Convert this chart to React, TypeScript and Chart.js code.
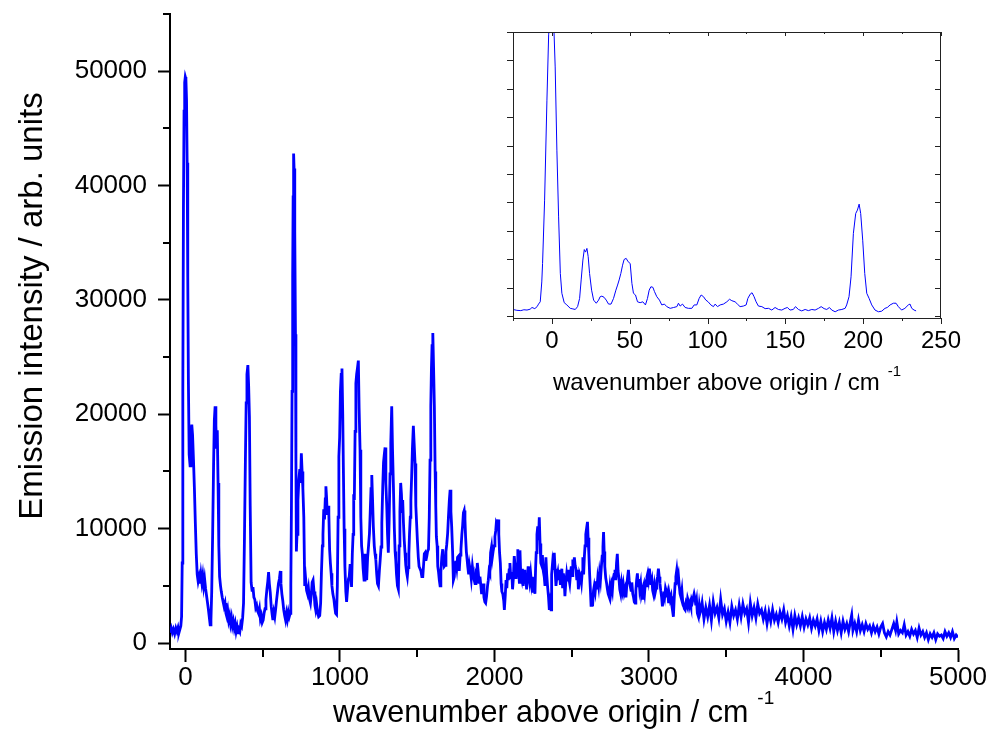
import React, { useEffect, useRef } from 'react';
import { Chart, registerables } from 'chart.js';

Chart.register(...registerables);

const FONT = '"Liberation Sans", Arial, Helvetica, sans-serif';
const BLUE = '#0000ff';

// ---- Main spectrum: [wavenumber above origin (cm-1), emission intensity (arb. units)]
const mainSpectrum: [number, number][] = [
  [-100, 900], [-92, 1300], [-85, 900], [-78, 1200], [-70, 800], [-62, 1300], [-55, 1000], [-48, 1350],
  [-42, 900], [-36, 1200], [-30, 1500], [-25, 2300], [-21, 7000], [-17, 22000], [-13, 38000], [-9, 46500],
  [-5, 49000], [-1, 49500], [3, 49300], [7, 47500], [11, 42000], [15, 32000], [19, 23000], [24, 16500], [30, 15500],
  [35, 17500], [41, 19100], [46, 18200], [52, 16000], [58, 13500], [64, 10500], [70, 7800], [76, 6000],
  [82, 5400], [88, 5800], [94, 5200], [100, 6000], [106, 5300], [112, 5900], [118, 5000], [124, 5600],
  [130, 4800], [136, 4200], [142, 3600], [148, 3000], [154, 2300], [160, 1600], [165, 2000], [170, 4500],
  [176, 9500], [182, 15500], [187, 19500], [192, 20700], [197, 19000], [202, 17000], [206, 18600], [211, 14000],
  [216, 8500], [221, 5800], [227, 5000], [232, 4500], [238, 4000], [244, 3600], [250, 3200], [256, 3500],
  [262, 2600], [268, 2300], [274, 2800], [280, 2000], [286, 2400], [292, 1700], [298, 2200], [304, 1500],
  [310, 1900], [316, 1300], [322, 1700], [328, 1000], [334, 1400], [340, 800], [346, 1200], [352, 1000],
  [358, 1700], [364, 1500], [370, 2200], [376, 3500], [382, 9300], [388, 16000], [393, 21000], [398, 23500],
  [404, 24300], [409, 22500], [414, 19800], [419, 12000], [425, 5300], [431, 4600], [437, 4900], [443, 4000],
  [449, 3800], [455, 3100], [461, 3300], [467, 2800], [473, 2600], [479, 3000], [485, 2100], [491, 2400],
  [497, 1800], [503, 2000], [509, 2600], [515, 3000], [521, 3800], [527, 4700], [533, 5400], [538, 6200],
  [543, 5200], [549, 4400], [555, 3200], [561, 2500], [566, 2000], [572, 2700], [578, 2300], [584, 3000],
  [590, 3800], [596, 4500], [602, 5200], [608, 5600], [614, 6300], [618, 5200], [624, 4300], [630, 3700],
  [636, 2900], [642, 2400], [648, 2000], [654, 2600], [660, 2100], [666, 2700], [672, 2300], [678, 2600],
  [682, 5000], [686, 12000], [690, 22000], [694, 32000], [697, 39000], [700, 42800], [703, 41500], [706, 40000],
  [709, 36000], [712, 27000], [715, 16000], [718, 8000], [722, 9500], [728, 12500], [734, 14300], [740, 15200],
  [745, 14000], [750, 16600], [755, 15000], [760, 13500], [766, 11000], [772, 5000], [778, 5600], [784, 4600],
  [790, 4300], [796, 4800], [802, 3900], [809, 3500], [815, 4300], [820, 5300], [826, 5500], [832, 4500],
  [838, 3300], [843, 2900], [849, 3400], [855, 2700], [862, 2300], [869, 2400], [875, 3500], [880, 6100],
  [886, 8500], [890, 9500], [895, 11700], [900, 10800], [905, 12600], [909, 13700], [913, 12800], [918, 11200],
  [923, 12000], [928, 11300], [933, 8200], [938, 7000], [943, 6100], [948, 5000], [954, 4300], [961, 3800],
  [966, 3200], [972, 2600], [978, 2500], [983, 5000], [988, 11000], [993, 16300], [998, 18000], [1003, 22000],
  [1008, 23500], [1013, 24000], [1018, 20000], [1022, 15400], [1027, 10000], [1032, 6700], [1038, 4500], [1043, 3600],
  [1049, 4700], [1055, 5600], [1060, 5800], [1066, 6900], [1071, 5800], [1075, 4900], [1080, 7800], [1085, 9500],
  [1089, 13000], [1093, 12500], [1098, 18500], [1103, 22700], [1108, 23500], [1113, 24000], [1119, 24700], [1124, 20500],
  [1130, 16900], [1135, 11000], [1140, 8500], [1145, 7800], [1150, 6500], [1156, 5500], [1162, 7800], [1168, 7200],
  [1173, 5500], [1179, 7500], [1185, 8500], [1191, 9600], [1196, 11500], [1201, 13500], [1206, 14700], [1211, 12500],
  [1216, 10200], [1222, 8500], [1227, 7800], [1232, 7300], [1238, 6000], [1243, 5200], [1249, 5000], [1255, 6300],
  [1260, 7200], [1266, 8400], [1271, 10500], [1277, 13700], [1282, 15800], [1287, 16500], [1292, 17100], [1297, 14000],
  [1303, 11900], [1308, 9500], [1313, 7900], [1318, 10500], [1324, 14800], [1329, 17500], [1335, 20700], [1340, 17000],
  [1346, 13700], [1352, 10000], [1357, 8000], [1361, 7300], [1366, 6000], [1372, 5000], [1378, 4700], [1383, 8500],
  [1388, 11500], [1393, 14000], [1398, 13000], [1402, 11500], [1406, 12500], [1411, 10500], [1416, 9000], [1421, 7900],
  [1426, 6800], [1431, 6200], [1436, 5800], [1441, 6600], [1446, 7800], [1450, 9500], [1455, 11000], [1459, 12500],
  [1464, 14600], [1469, 17000], [1475, 19000], [1480, 17500], [1486, 15700], [1491, 12000], [1496, 10500], [1501, 9000],
  [1507, 7500], [1512, 6700], [1518, 6700], [1524, 6300], [1530, 5800], [1536, 5800], [1541, 6800], [1546, 7800],
  [1551, 7900], [1556, 7200], [1562, 7600], [1567, 8000], [1573, 8200], [1578, 11000], [1583, 16000], [1588, 20700],
  [1592, 24000], [1596, 26000], [1601, 27100], [1606, 24000], [1611, 20700], [1616, 15000], [1620, 12000], [1624, 9300],
  [1629, 8500], [1633, 6700], [1638, 6200], [1643, 5500], [1648, 5000], [1653, 6200], [1659, 7500], [1665, 8200],
  [1670, 7300], [1675, 6700], [1680, 6800], [1686, 8000], [1691, 8600], [1697, 9600], [1702, 11000], [1708, 12500],
  [1713, 13400], [1718, 11500], [1723, 10200], [1729, 8000], [1734, 5500], [1740, 5800], [1745, 7000], [1750, 7200],
  [1756, 6600], [1761, 7500], [1767, 7600], [1772, 6300], [1778, 7700], [1783, 8200], [1789, 9500], [1794, 10300],
  [1799, 11400], [1804, 11600], [1809, 10800], [1813, 9300], [1818, 8000], [1823, 7300], [1827, 6700], [1833, 6000],
  [1838, 6800], [1844, 6300], [1850, 5600], [1857, 6700], [1863, 6000], [1869, 5500], [1874, 5200], [1880, 6000],
  [1885, 5800], [1889, 7000], [1895, 6200], [1900, 5300], [1906, 5800], [1912, 5000], [1916, 4400], [1921, 4400],
  [1927, 5200], [1932, 4000], [1938, 3600], [1943, 3500], [1949, 4100], [1955, 5000], [1960, 5500], [1965, 6300],
  [1970, 6100], [1975, 7900], [1981, 8400], [1986, 7500], [1991, 8000], [1997, 8500], [2003, 9300], [2008, 9800],
  [2012, 10500], [2018, 10300], [2023, 10800], [2028, 9500], [2033, 7900], [2038, 7000], [2043, 5200], [2048, 4500],
  [2054, 4300], [2060, 3700], [2064, 2900], [2070, 4200], [2075, 5500], [2080, 4800], [2085, 6100], [2090, 5500],
  [2095, 6400], [2100, 7000], [2106, 5600], [2112, 6200], [2117, 4700], [2122, 5600], [2128, 7600], [2134, 6700],
  [2140, 5600], [2146, 6900], [2151, 8200], [2156, 6500], [2161, 5300], [2165, 8100], [2170, 6000], [2176, 5600],
  [2181, 6500], [2186, 5000], [2192, 6400], [2197, 5200], [2203, 5800], [2208, 4700], [2213, 5600], [2218, 6700],
  [2223, 6000], [2228, 5400], [2234, 6100], [2240, 5200], [2246, 5800], [2251, 4400], [2256, 5600], [2262, 4300],
  [2266, 6500], [2270, 7900], [2275, 9500], [2280, 10200], [2285, 9000], [2290, 11000], [2295, 8700], [2300, 7000],
  [2305, 6800], [2310, 7700], [2316, 6300], [2322, 5800], [2327, 5000], [2333, 7500], [2338, 6000], [2344, 4900],
  [2350, 4000], [2355, 2900], [2360, 3500], [2366, 2900], [2370, 6000], [2376, 7000], [2382, 6400], [2387, 7900],
  [2392, 6500], [2398, 5000], [2404, 5800], [2410, 6200], [2415, 5500], [2420, 6400], [2426, 5200], [2430, 5500],
  [2436, 6500], [2441, 4800], [2446, 6100], [2451, 5500], [2456, 4100], [2461, 5200], [2467, 6000], [2472, 5400],
  [2477, 6400], [2482, 5600], [2487, 5200], [2492, 6000], [2497, 6700], [2502, 5900], [2507, 7300], [2512, 6600],
  [2517, 7500], [2522, 6800], [2528, 6400], [2533, 5500], [2538, 6400], [2543, 4700], [2548, 5400], [2553, 6000],
  [2558, 5800], [2563, 5300], [2568, 6200], [2572, 7500], [2577, 6000], [2582, 7600], [2586, 8500], [2591, 9500],
  [2597, 10100], [2602, 10600], [2606, 9200], [2611, 7800], [2616, 6000], [2620, 4900], [2625, 3300], [2630, 3600],
  [2636, 3500], [2641, 4600], [2646, 5000], [2652, 4500], [2658, 5400], [2663, 4700], [2668, 5600], [2674, 5000],
  [2680, 6100], [2686, 5500], [2692, 6700], [2697, 7600], [2702, 8400], [2706, 9700], [2710, 8000], [2714, 6700],
  [2720, 5700], [2726, 5200], [2731, 4700], [2736, 4300], [2741, 4100], [2747, 4900], [2752, 4300], [2758, 5000],
  [2763, 4600], [2768, 5600], [2774, 6000], [2780, 6400], [2785, 5500], [2790, 7000], [2795, 7800], [2800, 6300],
  [2806, 5600], [2811, 4700], [2817, 4300], [2823, 5200], [2829, 4600], [2834, 5100], [2840, 4400], [2845, 4700],
  [2851, 4000], [2856, 5000], [2862, 5800], [2867, 6400], [2872, 5500], [2878, 5000], [2884, 4600], [2889, 5300],
  [2895, 4300], [2900, 4000], [2905, 3600], [2910, 3500], [2915, 4600], [2920, 5500], [2925, 6100], [2930, 5000],
  [2935, 5600], [2940, 4700], [2946, 5200], [2951, 4200], [2956, 4500], [2960, 3800], [2966, 4700], [2971, 4300],
  [2976, 5200], [2981, 5000], [2987, 5800], [2992, 6100], [2997, 5600], [3003, 6500], [3008, 5700], [3013, 5100],
  [3019, 5500], [3024, 4600], [3029, 4300], [3035, 5000], [3040, 4400], [3046, 4800], [3051, 5500], [3056, 5800],
  [3061, 6500], [3066, 5800], [3071, 5200], [3076, 4600], [3082, 4000], [3087, 3200], [3092, 3800], [3097, 4500],
  [3102, 4100], [3107, 4800], [3111, 4600], [3116, 4000], [3122, 4400], [3127, 3500], [3132, 4200], [3137, 3800],
  [3143, 4100], [3148, 3300], [3153, 2800], [3158, 2300], [3163, 3800], [3169, 5200], [3174, 5800], [3180, 6400],
  [3185, 5700], [3190, 6000], [3196, 5000], [3201, 4300], [3207, 4000], [3213, 4600], [3218, 3700], [3223, 3400],
  [3229, 3000], [3234, 2900], [3240, 3500], [3245, 3300], [3250, 3900], [3256, 3600], [3261, 3200], [3266, 3500],
  [3271, 3200], [3276, 3800], [3281, 3600], [3287, 4000], [3292, 4300], [3298, 3900], [3303, 3300], [3308, 3700],
  [3313, 2600], [3320, 2300], [3326, 3300], [3332, 2700], [3338, 3000], [3344, 3500], [3356, 2100], [3368, 3100],
  [3380, 2300], [3392, 3300], [3404, 2000], [3416, 3600], [3428, 2600], [3440, 3100], [3452, 2200], [3464, 3800],
  [3476, 2500], [3488, 3000], [3500, 1900], [3512, 2700], [3524, 1800], [3536, 3200], [3548, 2400], [3560, 2900],
  [3572, 2100], [3584, 3300], [3596, 2300], [3608, 3400], [3620, 2600], [3632, 3000], [3644, 1800], [3656, 3500],
  [3668, 2400], [3680, 3100], [3692, 2200], [3704, 3400], [3716, 2600], [3728, 2900], [3740, 2100], [3752, 2800],
  [3764, 1700], [3776, 2700], [3788, 1900], [3800, 2900], [3812, 2000], [3824, 2500], [3836, 1800], [3848, 2700],
  [3860, 2100], [3872, 2900], [3884, 1800], [3896, 2400], [3908, 1500], [3920, 2300], [3932, 1200], [3944, 2400],
  [3956, 1600], [3968, 2200], [3980, 1500], [3992, 2300], [4004, 1400], [4016, 2100], [4028, 1600], [4040, 2200],
  [4052, 1300], [4064, 2000], [4076, 1500], [4088, 2100], [4100, 1100], [4112, 1900], [4124, 1000], [4136, 1800],
  [4148, 1200], [4160, 2000], [4172, 1300], [4184, 2200], [4196, 1000], [4208, 1900], [4220, 1100], [4232, 1800],
  [4244, 900], [4256, 1900], [4268, 1200], [4280, 1700], [4292, 1000], [4304, 1900], [4312, 2450], [4320, 1100],
  [4332, 1700], [4344, 1000], [4356, 2000], [4368, 1100], [4380, 1600], [4392, 1000], [4404, 1700], [4416, 1200],
  [4428, 1500], [4440, 900], [4452, 1500], [4464, 1000], [4476, 1400], [4488, 800], [4500, 1400], [4512, 1700],
  [4524, 900], [4536, 550], [4548, 1000], [4560, 700], [4572, 1200], [4584, 1700], [4596, 1100], [4604, 1850],
  [4616, 800], [4628, 1100], [4640, 900], [4652, 1600], [4664, 700], [4676, 1000], [4688, 600], [4700, 1200],
  [4712, 800], [4724, 1100], [4736, 500], [4748, 1300], [4760, 700], [4772, 1000], [4784, 500], [4796, 900],
  [4808, 300], [4820, 800], [4832, 500], [4844, 900], [4856, 300], [4868, 800], [4880, 600], [4892, 700],
  [4904, 400], [4916, 1000], [4928, 600], [4940, 900], [4952, 500], [4964, 1000], [4976, 400], [4988, 700],
  [5000, 500],
];

// ---- Inset spectrum (low-frequency region, arbitrary units)
const insetSpectrum: [number, number][] = [
  [-25, 0.23], [-22.5, 0.2], [-20, 0.19], [-18, 0.22], [-16, 0.21], [-14, 0.24], [-12.8, 0.3], [-11, 0.26],
  [-9.5, 0.33], [-8.6, 0.42], [-7.5, 0.5], [-6.5, 1.2], [-6, 1.85], [-4.7, 4.08], [-3.2, 7.6], [-2.1, 9.9],
  [-1, 10.7], [0, 11.0], [1, 10.6], [2.1, 8.77], [3.2, 5.84], [4.3, 3.49], [5.4, 1.5], [6.4, 0.8],
  [7.9, 0.47], [9.6, 0.39], [11.8, 0.27], [13.5, 0.25], [15, 0.23], [16.5, 0.33], [17.8, 0.62], [18.8, 1.27],
  [19.9, 1.97], [20.8, 2.34], [21.6, 2.25], [22.5, 2.38], [23.3, 2.09], [24.2, 1.5], [25.5, 0.91], [26.8, 0.56],
  [28.5, 0.45], [30, 0.56], [31, 0.68], [32.1, 0.7], [33.5, 0.66], [34.9, 0.56], [36.4, 0.42], [38, 0.42],
  [39.6, 0.62], [41.1, 0.91], [42.2, 1.09], [43.2, 1.27], [44.3, 1.5], [45.4, 1.79], [46.4, 1.99], [47.7, 2.03],
  [49, 1.91], [50.3, 1.85], [51.4, 1.15], [52.4, 0.8], [53.7, 0.74], [55, 0.5], [56.7, 0.47], [58.4, 0.5],
  [60.1, 0.39], [61.4, 0.62], [62.5, 0.91], [63.6, 1.03], [64.9, 1.01], [65.9, 0.86], [67.4, 0.68], [69.1, 0.56],
  [70.6, 0.39], [72.3, 0.42], [73.8, 0.33], [76, 0.27], [78.2, 0.3], [80.3, 0.33], [81.3, 0.45], [82.4, 0.35],
  [83.9, 0.42], [85.6, 0.3], [87.7, 0.27], [89.9, 0.27], [91.4, 0.39], [93.1, 0.39], [94.6, 0.62], [95.9, 0.74],
  [97.4, 0.68], [98.9, 0.56], [100.4, 0.5], [102.1, 0.39], [103.8, 0.33], [104.9, 0.42], [106.4, 0.33], [108.1, 0.39],
  [110.2, 0.42], [112.4, 0.5], [114.1, 0.59], [115.6, 0.54], [117.7, 0.5], [119.2, 0.42], [120.9, 0.33], [123, 0.35],
  [124.8, 0.39], [125.9, 0.62], [127.4, 0.77], [128.6, 0.82], [129.9, 0.68], [131.2, 0.5], [132.7, 0.35], [134.9, 0.33],
  [137, 0.26], [139.2, 0.27], [141.3, 0.21], [143.4, 0.3], [145.5, 0.23], [147.7, 0.21], [149.8, 0.27], [151.3, 0.3],
  [153, 0.21], [155.1, 0.23], [156.5, 0.33], [158.4, 0.23], [160.5, 0.18], [162.7, 0.23], [164.8, 0.19], [167, 0.23],
  [169.1, 0.21], [171.3, 0.27], [173, 0.33], [174.9, 0.26], [176.6, 0.23], [178.3, 0.3], [179.8, 0.21], [182, 0.15],
  [184.1, 0.21], [186.3, 0.23], [188.4, 0.27], [189.4, 0.39], [190.9, 0.68], [192.2, 1.38], [193.7, 2.91], [195.2, 3.61],
  [196.3, 3.73], [197.4, 3.94], [198.4, 3.61], [199.7, 2.67], [201, 1.5], [202.3, 0.8], [203.8, 0.62], [205.5, 0.39],
  [207.6, 0.21], [209.8, 0.15], [211.9, 0.17], [214, 0.27], [215.5, 0.3], [217.3, 0.39], [219.4, 0.45], [221.1, 0.45],
  [222.6, 0.33], [224.7, 0.21], [226.8, 0.27], [229, 0.39], [230.1, 0.42], [231.2, 0.27], [232.7, 0.21], [234, 0.18],
];

// ---- Ticks and tick labels
const mainXTicks = [0, 500, 1000, 1500, 2000, 2500, 3000, 3500, 4000, 4500, 5000];
const mainXTickLabels = [0, 1000, 2000, 3000, 4000, 5000];
const mainYTicks = [0, 5000, 10000, 15000, 20000, 25000, 30000, 35000, 40000, 45000, 50000, 55000];
const mainYTickLabels = [0, 10000, 20000, 30000, 40000, 50000];
const insetXTicks = [-25, 0, 25, 50, 75, 100, 125, 150, 175, 200, 225, 250];
const insetXTickLabels = [0, 50, 100, 150, 200, 250];
const insetYTicks = [0, 1, 2, 3, 4, 5, 6, 7, 8, 9, 10];

const xTitle = 'wavenumber above origin / cm';
const yTitle = 'Emission intensity / arb. units';
const superscript = '-1';

const mainDecor = {
  id: 'mainDecor',
  afterDraw(chart: any) {
    const { ctx, chartArea, scales } = chart;
    ctx.save();
    ctx.strokeStyle = '#000';
    ctx.lineWidth = 2;
    for (const t of scales.x.ticks) {
      if (!mainXTickLabels.includes(t.value)) {
        const px = Math.round(scales.x.getPixelForValue(t.value));
        ctx.beginPath();
        ctx.moveTo(px, chartArea.bottom);
        ctx.lineTo(px, chartArea.bottom + 8);
        ctx.stroke();
      }
    }
    for (const t of scales.y.ticks) {
      if (!mainYTickLabels.includes(t.value)) {
        const py = Math.round(scales.y.getPixelForValue(t.value));
        ctx.beginPath();
        ctx.moveTo(chartArea.left, py);
        ctx.lineTo(chartArea.left - 7, py);
        ctx.stroke();
      }
    }
    ctx.fillStyle = '#000';
    ctx.font = `30.5px ${FONT}`;
    ctx.textAlign = 'left';
    ctx.textBaseline = 'alphabetic';
    const x0 = 333;
    const yb = 722;
    ctx.fillText(xTitle, x0, yb);
    const w = ctx.measureText(xTitle).width;
    ctx.font = `19px ${FONT}`;
    ctx.fillText(superscript, x0 + w + 9, yb - 18);

    ctx.font = `33px ${FONT}`;
    ctx.translate(42, 306);
    ctx.rotate(-Math.PI / 2);
    ctx.textAlign = 'center';
    ctx.fillText(yTitle, 0, 0);
    ctx.restore();
  },
};

const insetDecor = {
  id: 'insetDecor',
  afterDraw(chart: any) {
    const { ctx, chartArea, scales } = chart;
    const { left, right, top, bottom } = chartArea;
    ctx.save();
    ctx.strokeStyle = '#222';
    ctx.lineWidth = 1;
    ctx.strokeRect(left + 0.5, top + 0.5, right - left - 1, bottom - top);
    for (const t of scales.x.ticks) {
      const px = Math.round(scales.x.getPixelForValue(t.value)) + 0.5;
      const major = insetXTickLabels.includes(t.value);
      ctx.beginPath();
      ctx.moveTo(px, bottom);
      ctx.lineTo(px, bottom + (major ? 6 : 3));
      ctx.moveTo(px, top);
      ctx.lineTo(px, top + (major ? 4 : 2));
      ctx.stroke();
    }
    for (const t of scales.y.ticks) {
      const py = Math.round(scales.y.getPixelForValue(t.value)) + 0.5;
      ctx.beginPath();
      ctx.moveTo(left, py);
      ctx.lineTo(left - 6, py);
      ctx.moveTo(right, py);
      ctx.lineTo(right - 6, py);
      ctx.stroke();
    }
    ctx.fillStyle = '#000';
    ctx.font = `24px ${FONT}`;
    ctx.textAlign = 'left';
    ctx.textBaseline = 'alphabetic';
    const x0 = 73;
    const yb = 390;
    ctx.fillText(xTitle, x0, yb);
    const w = ctx.measureText(xTitle).width;
    ctx.font = `15px ${FONT}`;
    ctx.fillText(superscript, x0 + w + 8, yb - 14);
    ctx.restore();
  },
};

const setTicks = (values: number[]) => (s: any) => {
  s.ticks = values.map((value) => ({ value }));
};

export default function App() {
  const mainRef = useRef<HTMLCanvasElement>(null);
  const insetRef = useRef<HTMLCanvasElement>(null);

  useEffect(() => {
    const main = new Chart(mainRef.current as HTMLCanvasElement, {
      type: 'line',
      data: {
        datasets: [
          {
            data: mainSpectrum.map(([x, y]) => ({ x, y })),
            borderColor: BLUE,
            borderWidth: 2.8,
            pointRadius: 0,
            tension: 0,
            fill: false,
          },
        ],
      },
      options: {
        animation: false,
        responsive: false,
        layout: { padding: { top: 14, right: 31, left: 0, bottom: 0 } },
        plugins: { legend: { display: false }, tooltip: { enabled: false } },
        scales: {
          x: {
            type: 'linear',
            position: 'bottom',
            min: -100,
            max: 5000,
            afterBuildTicks: setTicks(mainXTicks),
            afterFit: (s: any) => { s.height = 105; s.paddingLeft = 0; s.paddingRight = 0; },
            ticks: {
              autoSkip: false,
              maxRotation: 0,
              color: '#000',
              padding: 0,
              font: { family: FONT, size: 26 },
              callback: (v: any) => (mainXTickLabels.includes(Number(v)) ? String(v) : ''),
            },
            grid: {
              display: true,
              drawOnChartArea: false,
              drawTicks: true,
              tickLength: 13,
              tickWidth: 2,
              tickColor: (c: any) => (c.tick && mainXTickLabels.includes(c.tick.value) ? '#000' : 'rgba(0,0,0,0)'),
            },
            border: { display: true, color: '#000', width: 2 },
          },
          y: {
            type: 'linear',
            position: 'left',
            min: -520,
            max: 55000,
            afterBuildTicks: setTicks(mainYTicks),
            afterFit: (s: any) => { s.width = 170; s.paddingTop = 0; s.paddingBottom = 0; },
            ticks: {
              autoSkip: false,
              color: '#000',
              padding: 11,
              font: { family: FONT, size: 26 },
              callback: (v: any) => (mainYTickLabels.includes(Number(v)) ? String(v) : ''),
            },
            grid: {
              display: true,
              drawOnChartArea: false,
              drawTicks: true,
              tickLength: 12,
              tickWidth: 2,
              tickColor: (c: any) => (c.tick && mainYTickLabels.includes(c.tick.value) ? '#000' : 'rgba(0,0,0,0)'),
            },
            border: { display: true, color: '#000', width: 2 },
          },
        },
      },
      plugins: [mainDecor],
    } as any);

    const inset = new Chart(insetRef.current as HTMLCanvasElement, {
      type: 'line',
      data: {
        datasets: [
          {
            data: insetSpectrum.map(([x, y]) => ({ x, y })),
            borderColor: BLUE,
            borderWidth: 1,
            pointRadius: 0,
            tension: 0,
            fill: false,
          },
        ],
      },
      options: {
        animation: false,
        responsive: false,
        layout: { padding: { top: 32, right: 48, left: 0, bottom: 0 } },
        plugins: { legend: { display: false }, tooltip: { enabled: false } },
        scales: {
          x: {
            type: 'linear',
            position: 'bottom',
            min: -25,
            max: 250,
            afterBuildTicks: setTicks(insetXTicks),
            afterFit: (s: any) => { s.height = 82; s.paddingLeft = 0; s.paddingRight = 0; },
            ticks: {
              autoSkip: false,
              maxRotation: 0,
              color: '#000',
              padding: 3,
              font: { family: FONT, size: 24 },
              callback: (v: any) => (insetXTickLabels.includes(Number(v)) ? String(v) : ''),
            },
            grid: {
              display: true,
              drawOnChartArea: false,
              drawTicks: true,
              tickLength: 6,
              tickColor: 'rgba(0,0,0,0)',
            },
            border: { display: false },
          },
          y: {
            type: 'linear',
            position: 'left',
            min: -0.07,
            max: 10,
            afterBuildTicks: setTicks(insetYTicks),
            afterFit: (s: any) => { s.width = 33; s.paddingTop = 0; s.paddingBottom = 0; },
            ticks: { display: false },
            grid: { display: false },
            border: { display: false },
          },
        },
      },
      plugins: [insetDecor],
    } as any);

    return () => {
      main.destroy();
      inset.destroy();
    };
  }, []);

  return (
    <div style={{ position: 'fixed', left: 0, top: 0, width: 989, height: 754, background: '#fff', overflow: 'hidden' }}>
      <canvas
        ref={mainRef}
        width={989}
        height={754}
        style={{ position: 'absolute', left: 0, top: 0, width: 989, height: 754 }}
      />
      <canvas
        ref={insetRef}
        width={509}
        height={400}
        style={{ position: 'absolute', left: 480, top: 0, width: 509, height: 400 }}
      />
    </div>
  );
}
